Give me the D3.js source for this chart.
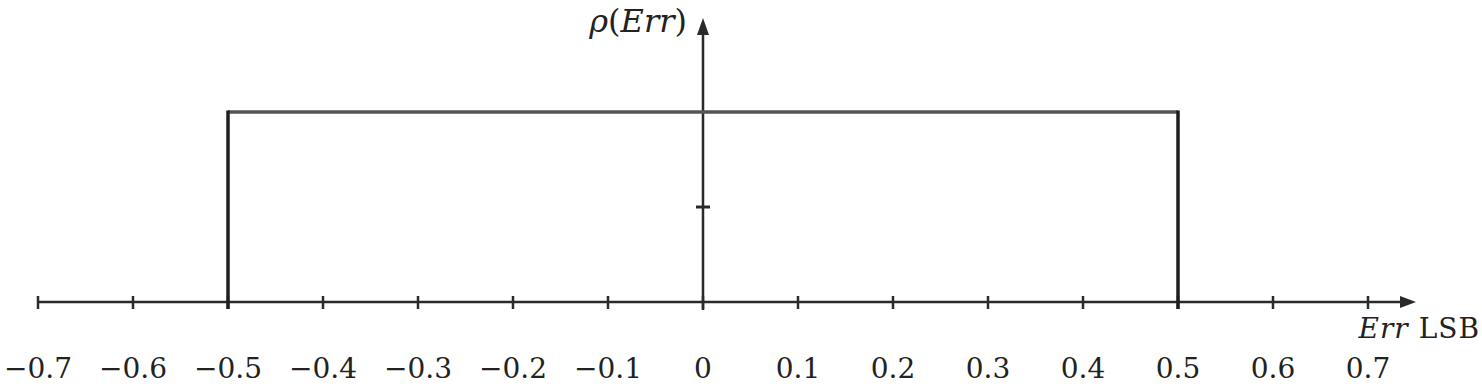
<!DOCTYPE html>
<html>
<head>
<meta charset="utf-8">
<title>Quantization error density</title>
<script src="https://cdn.jsdelivr.net/npm/d3@7"></script>
<style>
  body { margin: 0; background: #fff; }
  text { font-family: "DejaVu Serif", "Liberation Serif", serif; fill: #222; }
</style>
</head>
<body>
<script>
// data
var xTicks = [-0.7, -0.6, -0.5, -0.4, -0.3, -0.2, -0.1, 0, 0.1, 0.2, 0.3, 0.4, 0.5, 0.6, 0.7];
var yTicks = [0.5];
var densityX = [-0.5, -0.5, 0.5, 0.5];
var densityY = [0, 1, 1, 0];

var width = 1482, height = 387;

var x = d3.scaleLinear().domain([-0.7, 0.7]).range([38, 1368]);
var y = d3.scaleLinear().domain([0, 1]).range([302, 112]);

var svg = d3.select("body").append("svg")
    .attr("width", width)
    .attr("height", height);

var axisColor = "#2a2a2a";

// x axis line + arrow
svg.append("line")
    .attr("x1", x(-0.7)).attr("x2", 1405)
    .attr("y1", y(0)).attr("y2", y(0))
    .attr("stroke", axisColor).attr("stroke-width", 2.5);
svg.append("path")
    .attr("d", "M1416," + y(0) + " L1400," + (y(0) - 6) + " L1400," + (y(0) + 6) + "Z")
    .attr("fill", axisColor);

// y axis line + arrow
svg.append("line")
    .attr("x1", x(0)).attr("x2", x(0))
    .attr("y1", 310).attr("y2", 30)
    .attr("stroke", axisColor).attr("stroke-width", 2.5);
svg.append("path")
    .attr("d", "M" + x(0) + ",18 L" + (x(0) - 6) + ",35 L" + (x(0) + 6) + ",35Z")
    .attr("fill", axisColor);

// x ticks
svg.selectAll(".xt").data(xTicks).enter().append("line")
    .attr("class", "xt")
    .attr("x1", function (d) { return x(d); })
    .attr("x2", function (d) { return x(d); })
    .attr("y1", y(0) - 6).attr("y2", y(0) + 7)
    .attr("stroke", axisColor).attr("stroke-width", 2.5);

svg.selectAll(".xl").data(xTicks).enter().append("text")
    .attr("class", "xl")
    .attr("x", function (d) { return x(d); })
    .attr("y", 378)
    .attr("text-anchor", "middle")
    .style("font-size", "28px")
    .text(function (d) { return d === 0 ? "0" : (d < 0 ? "\u2212" : "") + Math.abs(d).toFixed(1); });

// y ticks
svg.selectAll(".yt").data(yTicks).enter().append("line")
    .attr("class", "yt")
    .attr("x1", x(0) - 7).attr("x2", x(0) + 7)
    .attr("y1", function (d) { return y(d); })
    .attr("y2", function (d) { return y(d); })
    .attr("stroke", axisColor).attr("stroke-width", 3);

// density: top edge lighter, sides dark
var pts = densityX.map(function (d, i) { return [x(d), y(densityY[i])]; });
svg.append("line")
    .attr("x1", pts[1][0]).attr("x2", pts[2][0])
    .attr("y1", pts[1][1]).attr("y2", pts[2][1])
    .attr("stroke", "#555").attr("stroke-width", 3.5);
[[0, 1], [3, 2]].forEach(function (p) {
    svg.append("line")
        .attr("x1", pts[p[0]][0]).attr("x2", pts[p[1]][0])
        .attr("y1", pts[p[0]][1] + 7).attr("y2", pts[p[1]][1] - 1.5)
        .attr("stroke", "#1e1e1e").attr("stroke-width", 3.5);
});

// labels
var yl = svg.append("text")
    .attr("x", 687).attr("y", 32)
    .attr("text-anchor", "end")
    .style("font-size", "32px");
yl.append("tspan").style("font-style", "italic").text("\u03c1");
yl.append("tspan").text("(");
yl.append("tspan").style("font-style", "italic").text("Err");
yl.append("tspan").text(")");

var xl = svg.append("text")
    .attr("x", 1480).attr("y", 338)
    .attr("text-anchor", "end")
    .style("font-size", "28px")
    .style("letter-spacing", "1px");
xl.append("tspan").style("font-style", "italic").text("Err");
xl.append("tspan").text(" LSB");
</script>
</body>
</html>
